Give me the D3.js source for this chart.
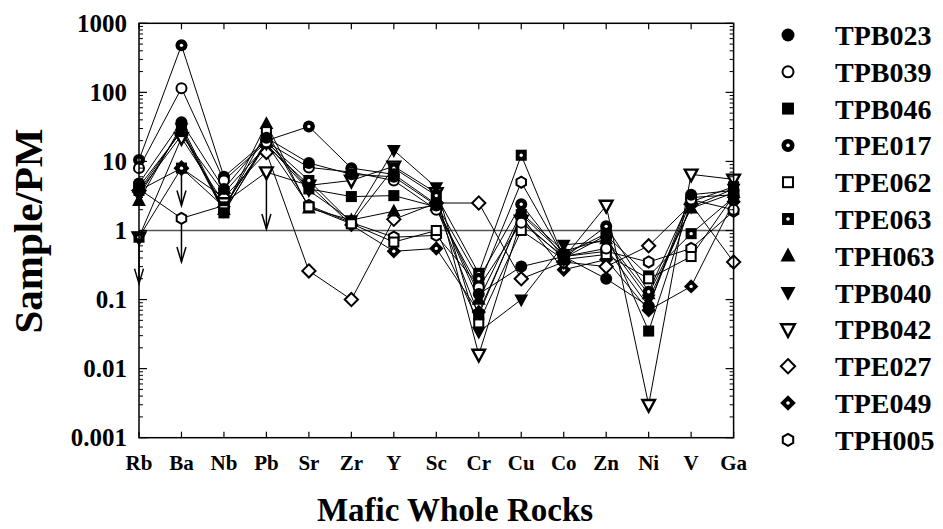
<!DOCTYPE html>
<html>
<head>
<meta charset="utf-8">
<script src="https://cdn.jsdelivr.net/npm/d3@7/dist/d3.min.js"></script>
<style>
  html, body { margin: 0; padding: 0; background: #fff; }
  svg { display: block; }
  text { font-family: "Liberation Serif", "Times New Roman", serif; font-weight: bold; fill: #000; }
</style>
</head>
<body>
<svg id="chart" width="943" height="529"></svg>
<script>
// Elements along the x axis (primitive-mantle normalised)
const elements = ["Rb", "Ba", "Nb", "Pb", "Sr", "Zr", "Y", "Sc", "Cr", "Cu", "Co", "Zn", "Ni", "V", "Ga"];

// Sample / PM values, one array per sample, in element order
const TPB023 = [4.8, 37, 4.0, 22, 9.5, 6.5, 6.0, 2.3, 0.12, 0.3, 0.42, 0.2, 0.08, 3.3, 3.8];
const TPB039 = [8.0, 115, 5.3, 19, 8.2, 7.0, 5.3, 2.0, 0.15, 1.3, 0.42, 0.55, 0.08, 2.8, 2.0];
const TPB046 = [3.8, 28, 1.8, 20, 4.0, 3.1, 3.2, 2.2, 0.06, 1.7, 0.45, 0.9, 0.035, 2.6, 4.3];
const TPE017 = [10.5, 480, 6.0, 20, 32, 8.0, 6.5, 2.4, 0.2, 2.4, 0.4, 1.15, 0.13, 3.0, 3.3];
const TPE062 = [4.3, 27, 2.0, 27, 2.2, 1.25, 0.68, 1.0, 0.046, 1.0, 0.38, 0.45, 0.2, 0.42, 3.2];
const TPE063 = [0.8, 8.0, 2.2, 19, 5.3, 1.3, 8.0, 3.2, 0.24, 12.3, 0.4, 0.85, 0.22, 0.9, 3.0];
const TPH063 = [2.7, 33, 2.0, 35, 2.1, 1.42, 1.9, 2.3, 0.1, 1.8, 0.5, 0.75, 0.12, 2.1, 3.5];
const TPB040 = [3.2, 30, 1.9, 18, 3.8, 1.4, 14.5, 4.2, 0.034, 0.1, 0.62, 0.7, 0.1, 2.2, 4.0];
const TPB042 = [0.8, 22, 2.5, 7.0, 4.5, 5.3, 8.5, 3.5, 0.016, 1.4, 0.4, 2.3, 0.003, 6.5, 5.5];
const TPE027 = [3.8, 8.0, 3.0, 13.5, 0.26, 0.1, 1.45, 2.5, 2.5, 0.2, 0.35, 0.3, 0.6, 2.4, 0.35];
const TPE049 = [3.6, 24, 3.5, 17, 4.6, 1.2, 0.5, 0.55, 0.066, 1.6, 0.27, 0.38, 0.07, 0.155, 2.6];
const TPH005 = [4.0, 1.5, 2.3, 18, 2.3, 1.3, 0.8, 0.85, 0.16, 5.0, 0.42, 0.5, 0.35, 0.55, 1.9];

// Values below detection: arrow drawn from the plotted value down to "to"
const upperLimits = [
  { sample: "TPE063", element: "Rb", to: 0.17 },
  { sample: "TPE063", element: "Ba", to: 2.3 },
  { sample: "TPH005", element: "Ba", to: 0.35 },
  { sample: "TPB042", element: "Pb", to: 1.05 }
];

// Axis tick labels
const yTickValues = [0.001, 0.01, 0.1, 1, 10, 100, 1000];
const yTickLabels = ["0.001", "0.01", "0.1", "1", "10", "100", "1000"];

const samples = [
  { name: "TPB023", values: TPB023, symbol: "circleFilled" },
  { name: "TPB039", values: TPB039, symbol: "circleOpen" },
  { name: "TPB046", values: TPB046, symbol: "squareFilled" },
  { name: "TPE017", values: TPE017, symbol: "circleDot" },
  { name: "TPE062", values: TPE062, symbol: "squareOpen" },
  { name: "TPE063", values: TPE063, symbol: "squareDot" },
  { name: "TPH063", values: TPH063, symbol: "triUp" },
  { name: "TPB040", values: TPB040, symbol: "triDown" },
  { name: "TPB042", values: TPB042, symbol: "triDownOpen" },
  { name: "TPE027", values: TPE027, symbol: "diamondOpen" },
  { name: "TPE049", values: TPE049, symbol: "diamondDot" },
  { name: "TPH005", values: TPH005, symbol: "hexOpen" }
];

const svg = d3.select("#chart");
const plot = { left: 139, right: 733.6, top: 23.3, bottom: 437.7 };

const x = d3.scalePoint().domain(elements).range([plot.left, plot.right]).padding(0);
const y = d3.scaleLog().domain([0.001, 1000]).range([plot.bottom, plot.top]);

// ---- marker drawing ----
function drawMarker(g, kind, cx, cy, r) {
  const m = g.append("g").attr("transform", `translate(${cx},${cy})`);
  const black = "#000", white = "#fff";
  const dot = () => m.append("circle").attr("r", r * 0.28).attr("fill", white);
  const poly = (pts) => pts.map(p => p.join(",")).join(" ");
  switch (kind) {
    case "circleFilled":
      m.append("circle").attr("r", r).attr("fill", black);
      break;
    case "circleOpen":
      m.append("circle").attr("r", r - 1).attr("fill", white).attr("stroke", black).attr("stroke-width", 2);
      break;
    case "circleDot":
      m.append("circle").attr("r", r).attr("fill", black);
      dot();
      break;
    case "squareFilled": {
      const s = r * 0.92;
      m.append("rect").attr("x", -s).attr("y", -s).attr("width", 2 * s).attr("height", 2 * s).attr("fill", black);
      break;
    }
    case "squareOpen": {
      const s = r * 0.92 - 1;
      m.append("rect").attr("x", -s).attr("y", -s).attr("width", 2 * s).attr("height", 2 * s)
        .attr("fill", white).attr("stroke", black).attr("stroke-width", 2);
      break;
    }
    case "squareDot": {
      const s = r * 0.92;
      m.append("rect").attr("x", -s).attr("y", -s).attr("width", 2 * s).attr("height", 2 * s).attr("fill", black);
      dot();
      break;
    }
    case "triUp": {
      const h = r * 1.15;
      m.append("polygon").attr("points", poly([[0, -h * 1.1], [h, h * 0.75], [-h, h * 0.75]])).attr("fill", black);
      break;
    }
    case "triDown": {
      const h = r * 1.15;
      m.append("polygon").attr("points", poly([[0, h * 1.1], [h, -h * 0.75], [-h, -h * 0.75]])).attr("fill", black);
      break;
    }
    case "triDownOpen": {
      const h = r * 1.05;
      m.append("polygon").attr("points", poly([[0, h * 1.1], [h, -h * 0.75], [-h, -h * 0.75]]))
        .attr("fill", white).attr("stroke", black).attr("stroke-width", 2.4).attr("stroke-linejoin", "miter");
      break;
    }
    case "diamondOpen": {
      const h = r * 1.1;
      m.append("polygon").attr("points", poly([[0, -h], [h, 0], [0, h], [-h, 0]]))
        .attr("fill", white).attr("stroke", black).attr("stroke-width", 2);
      break;
    }
    case "diamondDot": {
      const h = r * 1.2;
      m.append("polygon").attr("points", poly([[0, -h], [h, 0], [0, h], [-h, 0]])).attr("fill", black);
      dot();
      break;
    }
    case "hexOpen": {
      const h = r - 0.5;
      const pts = d3.range(6).map(i => {
        const a = Math.PI / 6 + i * Math.PI / 3;
        return [h * Math.cos(a), h * Math.sin(a)];
      });
      m.append("polygon").attr("points", poly(pts)).attr("fill", white).attr("stroke", black).attr("stroke-width", 2);
      break;
    }
  }
}

// ---- reference line at Sample/PM = 1 ----
svg.append("line")
  .attr("x1", plot.left).attr("x2", plot.right)
  .attr("y1", y(1)).attr("y2", y(1))
  .attr("stroke", "#555").attr("stroke-width", 1.3);

// ---- connecting lines ----
const lineGen = d3.line().x((d, i) => x(elements[i])).y(d => y(d));
const linesG = svg.append("g");
samples.forEach(s => {
  linesG.append("path").attr("d", lineGen(s.values))
    .attr("fill", "none").attr("stroke", "#000").attr("stroke-width", 1);
});

// ---- upper-limit arrows ----
const arrowG = svg.append("g").attr("stroke", "#000").attr("stroke-width", 1.5).attr("fill", "none");
upperLimits.forEach(u => {
  const s = samples.find(d => d.name === u.sample);
  const v = s.values[elements.indexOf(u.element)];
  const ax = x(u.element), y0 = y(v), y1 = y(u.to);
  arrowG.append("line").attr("x1", ax).attr("x2", ax).attr("y1", y0).attr("y2", y1);
  arrowG.append("path").attr("d", `M${ax - 4.5},${y1 - 15} L${ax},${y1} L${ax + 4.5},${y1 - 15}`);
});

// ---- markers (first sample drawn last, so it sits on top) ----
const markG = svg.append("g");
samples.slice().reverse().forEach(s => {
  s.values.forEach((v, i) => drawMarker(markG, s.symbol, x(elements[i]), y(v), 6));
});

// ---- frame and ticks ----
const axisG = svg.append("g").attr("stroke", "#000");
axisG.append("rect")
  .attr("x", plot.left).attr("y", plot.top)
  .attr("width", plot.right - plot.left).attr("height", plot.bottom - plot.top)
  .attr("fill", "none").attr("stroke-width", 1.5);

const minorTicks = [];
for (let e = -3; e < 3; e++) for (let k = 2; k <= 9; k++) minorTicks.push(k * Math.pow(10, e));
yTickValues.forEach(v => {
  const ty = y(v);
  axisG.append("line").attr("x1", plot.left).attr("x2", plot.left + 8).attr("y1", ty).attr("y2", ty).attr("stroke-width", 1.2);
  axisG.append("line").attr("x1", plot.right).attr("x2", plot.right - 8).attr("y1", ty).attr("y2", ty).attr("stroke-width", 1.2);
});
minorTicks.forEach(v => {
  const ty = y(v);
  axisG.append("line").attr("x1", plot.left).attr("x2", plot.left + 4).attr("y1", ty).attr("y2", ty).attr("stroke-width", 1);
  axisG.append("line").attr("x1", plot.right).attr("x2", plot.right - 4).attr("y1", ty).attr("y2", ty).attr("stroke-width", 1);
});
elements.forEach(el => {
  const tx = x(el);
  axisG.append("line").attr("x1", tx).attr("x2", tx).attr("y1", plot.bottom).attr("y2", plot.bottom - 6).attr("stroke-width", 1.2);
  axisG.append("line").attr("x1", tx).attr("x2", tx).attr("y1", plot.top).attr("y2", plot.top + 6).attr("stroke-width", 1.2);
});

// ---- tick labels ----
yTickValues.forEach((v, i) => {
  svg.append("text").attr("x", 127).attr("y", y(v) + 8.5)
    .attr("text-anchor", "end").attr("font-size", 25).text(yTickLabels[i]);
});
elements.forEach(el => {
  svg.append("text").attr("x", x(el)).attr("y", 470)
    .attr("text-anchor", "middle").attr("font-size", 21).text(el);
});

// ---- axis titles ----
svg.append("text").attr("x", 455).attr("y", 521)
  .attr("text-anchor", "middle").attr("font-size", 33).text("Mafic Whole Rocks");
svg.append("text").attr("transform", "translate(42,231) rotate(-90)")
  .attr("text-anchor", "middle").attr("font-size", 41).text("Sample/PM");

// ---- legend ----
const legend = svg.append("g");
samples.forEach((s, i) => {
  const ly = 35 + i * 36.8;
  drawMarker(legend, s.symbol, 788, ly, 6.5);
  legend.append("text").attr("x", 835).attr("y", ly + 10).attr("font-size", 28).text(s.name);
});
</script>
</body>
</html>
